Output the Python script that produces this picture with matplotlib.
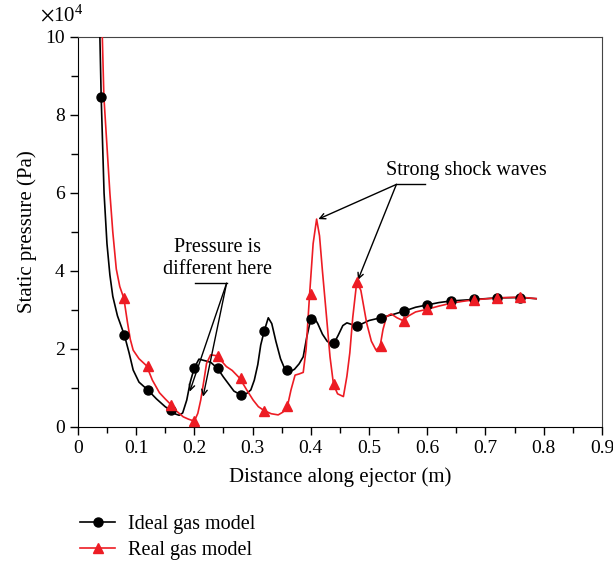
"""Static pressure along the ejector: ideal vs real gas model."""

import matplotlib

matplotlib.use("Agg")
import matplotlib.pyplot as plt
from matplotlib.lines import Line2D
from matplotlib.ticker import MultipleLocator

# pressures are in units of 1e4 Pa (axis carries the x10^4 factor)
ideal_line_x = [0.037, 0.040, 0.045, 0.050, 0.055, 0.060, 0.068, 0.080, 0.088, 0.095,
                0.105, 0.120, 0.135, 0.150, 0.160, 0.168, 0.174, 0.180, 0.187, 0.193,
                0.200, 0.208, 0.218, 0.228, 0.240, 0.250, 0.258, 0.268, 0.280, 0.290,
                0.297, 0.303, 0.309, 0.314, 0.320, 0.327, 0.333, 0.340, 0.348, 0.355,
                0.360, 0.366, 0.372, 0.380, 0.387, 0.393, 0.400, 0.405, 0.412, 0.420,
                0.428, 0.435, 0.440, 0.447, 0.455, 0.462, 0.470, 0.480, 0.490, 0.500,
                0.520, 0.540, 0.560, 0.580, 0.600, 0.620, 0.640, 0.680, 0.720, 0.760,
                0.787]
ideal_line_y = [10.6, 8.5, 6.0, 4.7, 3.9, 3.35, 2.85, 2.35, 1.9, 1.46,
                1.15, 0.95, 0.72, 0.52, 0.42, 0.33, 0.30, 0.36, 0.69, 1.15,
                1.52, 1.74, 1.70, 1.66, 1.50, 1.28, 1.12, 0.92, 0.82, 0.86,
                0.95, 1.20, 1.60, 2.10, 2.46, 2.80, 2.65, 2.20, 1.75, 1.50,
                1.45, 1.43, 1.48, 1.62, 1.80, 2.30, 2.77, 2.83, 2.65, 2.38,
                2.20, 2.13, 2.15, 2.35, 2.60, 2.67, 2.63, 2.59, 2.66, 2.73,
                2.80, 2.88, 2.97, 3.07, 3.13, 3.19, 3.23, 3.27, 3.31, 3.32,
                3.29]

real_line_x = [0.0405, 0.042, 0.0447, 0.050, 0.055, 0.060, 0.066, 0.072, 0.079, 0.085,
               0.090, 0.095, 0.105, 0.118, 0.128, 0.140, 0.150, 0.160, 0.170, 0.181,
               0.190, 0.200, 0.206, 0.211, 0.216, 0.221, 0.228, 0.237, 0.245, 0.255,
               0.265, 0.278, 0.290, 0.301, 0.310, 0.320, 0.332, 0.344, 0.352, 0.360,
               0.366, 0.373, 0.380, 0.387, 0.392, 0.398, 0.404, 0.410, 0.415, 0.420,
               0.427, 0.433, 0.439, 0.446, 0.456, 0.462, 0.467, 0.472, 0.479, 0.486,
               0.496, 0.504, 0.512, 0.519, 0.524, 0.530, 0.538, 0.548, 0.558, 0.568,
               0.580, 0.600, 0.620, 0.640, 0.660, 0.680, 0.720, 0.760, 0.787]
real_line_y = [10.8, 10.0, 8.47, 7.2, 6.0, 5.0, 4.05, 3.6, 3.3, 2.7,
               2.25, 1.97, 1.75, 1.57, 1.20, 0.88, 0.72, 0.57, 0.40, 0.26,
               0.20, 0.15, 0.35, 0.69, 1.15, 1.63, 1.85, 1.83, 1.72, 1.55,
               1.45, 1.25, 0.95, 0.69, 0.52, 0.42, 0.34, 0.31, 0.38, 0.54,
               0.95, 1.33, 1.36, 1.40, 2.00, 3.41, 4.70, 5.33, 4.90, 4.00,
               2.83, 1.80, 1.09, 0.85, 0.78, 1.30, 1.90, 2.80, 3.73, 3.50,
               2.66, 2.20, 1.97, 2.07, 2.50, 2.83, 2.90, 2.80, 2.73, 2.85,
               2.95, 3.02, 3.10, 3.17, 3.22, 3.26, 3.31, 3.33, 3.29]

ideal_mark_x = [0.04, 0.08, 0.12, 0.16, 0.20, 0.24, 0.28, 0.32, 0.36, 0.40,
                0.44, 0.48, 0.52, 0.56, 0.60, 0.64, 0.68, 0.72, 0.76]
ideal_mark_y = [8.47, 2.36, 0.96, 0.43, 1.52, 1.50, 0.82, 2.46, 1.46, 2.77,
                2.16, 2.59, 2.79, 2.97, 3.13, 3.23, 3.27, 3.31, 3.32]
real_mark_x = [0.08, 0.12, 0.16, 0.20, 0.24, 0.28, 0.32, 0.36, 0.40,
               0.44, 0.48, 0.52, 0.56, 0.60, 0.64, 0.68, 0.72, 0.76]
real_mark_y = [3.30, 1.57, 0.57, 0.15, 1.83, 1.25, 0.42, 0.54, 3.41,
               1.09, 3.73, 2.07, 2.73, 3.02, 3.17, 3.26, 3.31, 3.33]

RED = "#ed1c24"
FS = 14.5

plt.rcParams["font.family"] = ["Liberation Serif", "DejaVu Serif"]
plt.rcParams["mathtext.fontset"] = "stix"

fig = plt.figure(figsize=(6.13, 5.63), dpi=100)
ax = fig.add_axes([0.127, 0.2416, 0.855, 0.6927])

ax.plot(ideal_line_x, ideal_line_y, color="black", lw=1.2, zorder=3)
ax.plot(ideal_mark_x, ideal_mark_y, ls="none", marker="o", ms=6.5, color="black", zorder=4)
ax.plot(real_line_x, real_line_y, color=RED, lw=1.2, zorder=3)
ax.plot(real_mark_x, real_mark_y, ls="none", marker="^", ms=7.5, color=RED, zorder=4)

ax.set_xlim(0, 0.9)
ax.set_ylim(0, 10)
ax.xaxis.set_major_locator(MultipleLocator(0.1))
ax.xaxis.set_minor_locator(MultipleLocator(0.05))
ax.yaxis.set_major_locator(MultipleLocator(2))
ax.yaxis.set_minor_locator(MultipleLocator(1))
ax.set_xticks(ax.get_xticks())
ax.set_xticklabels(["0" if t == 0 else f"{t:.1f}" for t in ax.get_xticks()])
ax.set_xlim(0, 0.9)
ax.tick_params(which="both", direction="out", labelsize=14, width=1.0)
ax.tick_params(which="major", length=6)
ax.tick_params(which="minor", length=4)
ax.tick_params(axis="y", which="minor", length=5)
for side in ("top", "right"):
    ax.spines[side].set_color("#444444")
ax.set_xlabel("Distance along ejector (m)", fontsize=15, labelpad=7)
ax.set_ylabel("Static pressure (Pa)", fontsize=15, labelpad=6)
fig.text(0.065, 0.962, r"$\times\mathregular{10^4}$", fontsize=15)

# annotations
arrow = dict(arrowstyle="->", color="black", lw=1.0, shrinkA=0, shrinkB=0)
ax.plot([0.547, 0.596], [6.22, 6.22], color="black", lw=1.0)
ax.annotate("", xy=(0.413, 5.33), xytext=(0.547, 6.22), arrowprops=arrow)
ax.annotate("", xy=(0.481, 3.77), xytext=(0.547, 6.22), arrowprops=arrow)
ax.text(0.667, 6.57, "Strong shock waves", fontsize=FS, ha="center", va="center")

ax.plot([0.201, 0.2554], [3.685, 3.685], color="black", lw=1.0)
ax.annotate("", xy=(0.192, 0.905), xytext=(0.2554, 3.685), arrowprops=arrow)
ax.annotate("", xy=(0.215, 0.777), xytext=(0.2554, 3.685), arrowprops=arrow)
ax.text(0.240, 4.33, "Pressure is\ndifferent here", fontsize=FS, ha="center",
        va="center", linespacing=1.2)

handles = [
    Line2D([], [], color="black", marker="o", ms=6.5, lw=1.2),
    Line2D([], [], color=RED, marker="^", ms=7.5, lw=1.2),
]
fig.legend(handles, ["Ideal gas model", "Real gas model"], loc="upper left",
           bbox_to_anchor=(0.114, 0.103), frameon=False, fontsize=FS,
           handlelength=1.75, handletextpad=0.65, labelspacing=0.35, borderpad=0)

fig.savefig("out.png", dpi=100)
